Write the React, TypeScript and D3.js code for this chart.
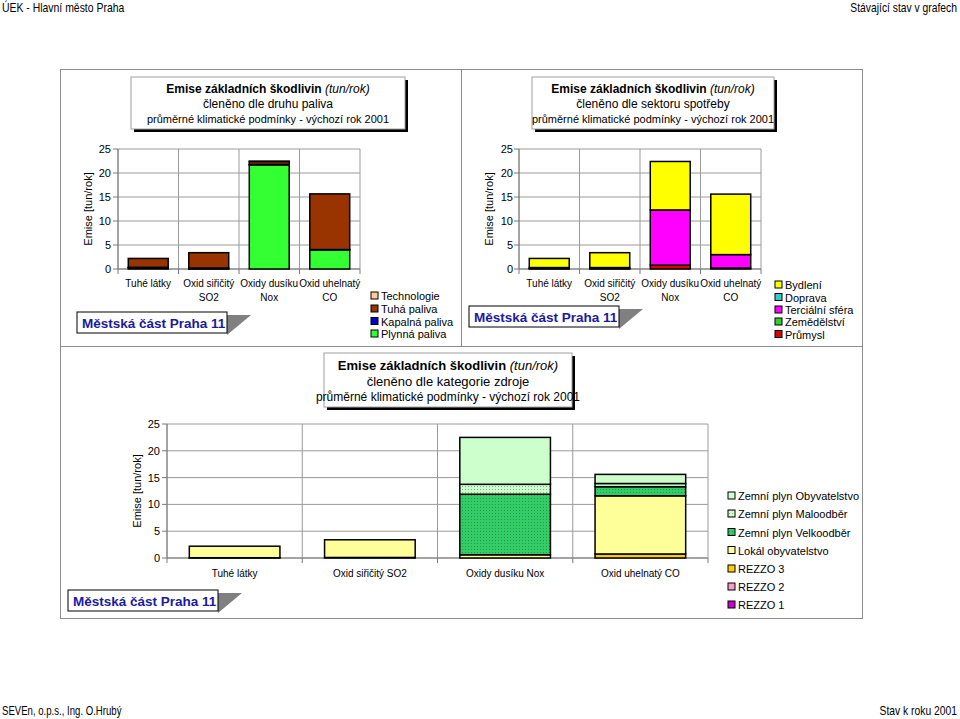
import React from "react";
import * as d3 from "d3";

// ---------- data ----------
const yTicks = [0, 5, 10, 15, 20, 25];
const catsTop = [["Tuhé látky"], ["Oxid siřičitý", "SO2"], ["Oxidy dusíku", "Nox"], ["Oxid uhelnatý", "CO"]];
const catsBottom = [["Tuhé látky"], ["Oxid siřičitý SO2"], ["Oxidy dusíku Nox"], ["Oxid uhelnatý CO"]];

// by fuel (bottom -> top)
const fuelNames = ["Plynná paliva", "Kapalná paliva", "Tuhá paliva", "Technologie"];
const fuelColors = ["#33FF33", "#0000CC", "#993300", "#FFCC99"];
const plynnaPaliva = [0.3, 0.05, 21.7, 4.0];
const kapalnaPaliva = [0.05, 0.15, 0.1, 0.05];
const tuhaPaliva = [1.85, 3.2, 0.6, 11.6];
const technologie = [0, 0, 0.05, 0];

// by sector (bottom -> top)
const sectorNames = ["Průmysl", "Zemědělství", "Terciální sféra", "Doprava", "Bydlení"];
const sectorColors = ["#DD0000", "#33CC33", "#FF00FF", "#33CCCC", "#FFFF00"];
const prumysl = [0.1, 0.1, 0.8, 0.2];
const zemedelstvi = [0, 0, 0, 0];
const tercialni = [0.2, 0.2, 11.5, 2.8];
const doprava = [0, 0, 0, 0];
const bydleni = [1.9, 3.1, 10.1, 12.6];

// by source category (bottom -> top)
const sourceNames = ["REZZO 1", "REZZO 2", "REZZO 3", "Lokál obyvatelstvo", "Zemní plyn Velkoodběr", "Zemní plyn Maloodběr", "Zemní plyn Obyvatelstvo"];
const sourceColors = ["#CC00CC", "#FF99CC", "#FFCC00", "#FFFF99", "url(#patVelko)", "url(#patMalo)", "#CCFFCC"];
const rezzo1 = [0, 0, 0, 0];
const rezzo2 = [0, 0, 0, 0];
const rezzo3 = [0.05, 0.1, 0, 0.75];
const lokal = [2.15, 3.3, 0.6, 10.85];
const velko = [0, 0, 11.3, 1.7];
const malo = [0, 0, 1.85, 0.6];
const obyv = [0, 0, 8.75, 1.7];

const FONT = "'Liberation Sans', Arial, sans-serif";

type Series = { name: string; color: string; values: number[] };

function StackChart(props: {
  x0: number; x1: number; yTop: number; yBot: number;
  cats: string[][]; series: Series[]; ratio: number;
  tickX: number; titleX: number; catY: number; catSize: number;
}) {
  const { x0, x1, yTop, yBot, cats, series, ratio, tickX, titleX, catY, catSize } = props;
  const idx = cats.map((_, i) => i);
  const x = d3.scaleBand<number>().domain(idx).range([x0, x1]).paddingInner(1 - ratio).paddingOuter((1 - ratio) / 2);
  const y = d3.scaleLinear().domain([0, 25]).range([yBot, yTop]);
  const rows = idx.map((i) => {
    const o: Record<string, number> = {};
    series.forEach((s) => (o[s.name] = s.values[i]));
    return o;
  });
  const stacked = d3.stack<Record<string, number>>().keys(series.map((s) => s.name))(rows);
  const step = x.step();
  const bounds = d3.range(cats.length + 1).map((i) => x0 + i * step);
  return (
    <g fontFamily={FONT}>
      {yTicks.map((t) => (
        <line key={"g" + t} x1={x0} x2={x1} y1={y(t)} y2={y(t)} stroke="#9a9a9a" strokeWidth={1} />
      ))}
      {bounds.map((b, i) => (
        <line key={"v" + i} x1={b} x2={b} y1={yTop} y2={yBot} stroke="#9a9a9a" strokeWidth={1} />
      ))}
      <line x1={x0} x2={x0} y1={yTop} y2={yBot} stroke="#7a7a7a" />
      <line x1={x0} x2={x1} y1={yBot} y2={yBot} stroke="#7a7a7a" />
      {yTicks.map((t) => (
        <g key={"t" + t}>
          <line x1={x0 - 5} x2={x0} y1={y(t)} y2={y(t)} stroke="#7a7a7a" />
          <text x={tickX} y={y(t) + 4} textAnchor="end" fontSize={11} fill="#000">{t}</text>
        </g>
      ))}
      {bounds.map((b, i) => (
        <line key={"bt" + i} x1={b} x2={b} y1={yBot} y2={yBot + 5} stroke="#7a7a7a" />
      ))}
      {stacked.map((layer, si) =>
        layer.map((d, i) => {
          if (d[1] - d[0] <= 0) return null;
          return (
            <rect key={si + "-" + i} x={x(i)} width={x.bandwidth()} y={y(d[1])} height={y(d[0]) - y(d[1])}
              fill={series[si].color} stroke="#000" strokeWidth={1.5} />
          );
        })
      )}
      {cats.map((lines, i) =>
        lines.map((l, j) => (
          <text key={"c" + i + j} x={x(i)! + x.bandwidth() / 2} y={catY + j * 14} textAnchor="middle" fontSize={catSize}>{l}</text>
        ))
      )}
      <text transform={`translate(${titleX},${(yTop + yBot) / 2}) rotate(-90)`} textAnchor="middle" fontSize={11}>Emise [tun/rok]</text>
    </g>
  );
}

function TitleBox(props: { x: number; y: number; w: number; h: number; sub: string; size: number; cx: number; ys: number[] }) {
  const { x, y, w, h, sub, size, cx, ys } = props;
  return (
    <g fontFamily={FONT}>
      <rect x={x + 3} y={y + 3} width={w} height={h} fill="#000" />
      <rect x={x} y={y} width={w} height={h} fill="#fff" stroke="#a0a0a0" />
      <text x={cx} y={ys[0]} textAnchor="middle" fontSize={size}>
        <tspan fontWeight="bold">Emise základních škodlivin</tspan>
        <tspan fontStyle="italic"> (tun/rok)</tspan>
      </text>
      <text x={cx} y={ys[1]} textAnchor="middle" fontSize={size}>{sub}</text>
      <text x={cx} y={ys[2]} textAnchor="middle" fontSize={size - 1}>průměrné klimatické podmínky - výchozí rok 2001</text>
    </g>
  );
}

function PrahaLabel(props: { x: number; y: number }) {
  const { x, y } = props;
  const w = 150, h = 21;
  return (
    <g fontFamily={FONT}>
      <polygon points={`${x + w},${y + 3} ${x + w + 24},${y + 3} ${x + w},${y + h + 2}`} fill="#808080" />
      <rect x={x} y={y} width={w} height={h} fill="#fff" stroke="#000" strokeWidth={1} />
      <text transform={`translate(${x + 5},${y + 16}) scale(1.0,1)`} fontSize={13.5} fontWeight="bold" fill="#1a1aa0">Městská část Praha 11</text>
    </g>
  );
}

function Legend(props: { x: number; ys: number[]; names: string[]; colors: string[]; size: number }) {
  const { x, ys, names, colors, size } = props;
  return (
    <g fontFamily={FONT}>
      {names.map((n, i) => (
        <g key={n}>
          <rect x={x} y={ys[i] - 4} width={7} height={7} fill={colors[i]} stroke="#000" strokeWidth={1} />
          <text x={x + 10} y={ys[i] + 4} fontSize={size}>{n}</text>
        </g>
      ))}
    </g>
  );
}

export default function App() {
  const fuelSeries: Series[] = [plynnaPaliva, kapalnaPaliva, tuhaPaliva, technologie].map((v, i) => ({ name: fuelNames[i], color: fuelColors[i], values: v }));
  const sectorSeries: Series[] = [prumysl, zemedelstvi, tercialni, doprava, bydleni].map((v, i) => ({ name: sectorNames[i], color: sectorColors[i], values: v }));
  const sourceSeries: Series[] = [rezzo1, rezzo2, rezzo3, lokal, velko, malo, obyv].map((v, i) => ({ name: sourceNames[i], color: sourceColors[i], values: v }));
  const rev = <T,>(a: T[]) => a.slice().reverse();
  return (
    <svg width={960} height={719} style={{ position: "absolute", left: 0, top: 0, background: "#fff" }}>
      <defs>
        <pattern id="patVelko" width={3} height={3} patternUnits="userSpaceOnUse">
          <rect width={3} height={3} fill="#33CC66" />
          <rect width={1} height={1} fill="#1f9a48" />
        </pattern>
        <pattern id="patMalo" width={3} height={3} patternUnits="userSpaceOnUse">
          <rect width={3} height={3} fill="#CCFFCC" />
          <rect width={1} height={1} fill="#8aa890" />
        </pattern>
      </defs>
      <rect width={960} height={719} fill="#fff" />
      <g fontFamily={FONT} fontSize={12}>
        <text transform="translate(2,12) scale(0.87,1)">ÚEK - Hlavní město Praha</text>
        <text transform="translate(957,12) scale(0.86,1)" textAnchor="end">Stávající stav v grafech</text>
        <text transform="translate(2,715) scale(0.8,1)">SEVEn, o.p.s., Ing. O.Hrubý</text>
        <text transform="translate(957,715) scale(0.86,1)" textAnchor="end">Stav k roku 2001</text>
      </g>
      {/* frames */}
      <rect x={60.5} y={69.5} width={802} height={549} fill="none" stroke="#8c8c8c" />
      <line x1={60} x2={863} y1={346.5} y2={346.5} stroke="#8c8c8c" />
      <line x1={461.5} x2={461.5} y1={69} y2={346} stroke="#8c8c8c" />

      {/* top-left */}
      <TitleBox x={131} y={77} w={274} h={52} sub="členěno dle druhu paliva" size={12} cx={268} ys={[93, 108, 123]} />
      <StackChart x0={118} x1={360} yTop={149} yBot={269} cats={catsTop} series={fuelSeries} ratio={0.66}
        tickX={111} titleX={92} catY={287} catSize={10} />
      <Legend x={371} ys={[296, 309, 321.5, 334]} names={rev(fuelNames)} colors={rev(fuelColors)} size={11} />
      <PrahaLabel x={77} y={312} />

      {/* top-right */}
      <TitleBox x={532} y={77} w={242} h={52} sub="členěno dle sektoru spotřeby" size={12} cx={653} ys={[93, 108, 123]} />
      <StackChart x0={519} x1={761} yTop={149} yBot={269} cats={catsTop} series={sectorSeries} ratio={0.66}
        tickX={513} titleX={493} catY={287} catSize={10} />
      <Legend x={775} ys={[285, 297.5, 310, 322, 334.5]} names={rev(sectorNames)} colors={rev(sectorColors)} size={11} />
      <PrahaLabel x={469} y={306} />

      {/* bottom */}
      <TitleBox x={324} y={353} w={248} h={54} sub="členěno dle kategorie zdroje" size={13} cx={448} ys={[370, 386, 401]} />
      <StackChart x0={167} x1={708} yTop={424} yBot={558} cats={catsBottom} series={sourceSeries} ratio={0.67}
        tickX={160} titleX={141} catY={577} catSize={10} />
      <Legend x={728} ys={[496, 514, 532.5, 550.5, 569, 587, 605]} names={rev(sourceNames)} colors={rev(sourceColors)} size={11} />
      <PrahaLabel x={68} y={590} />
    </svg>
  );
}
